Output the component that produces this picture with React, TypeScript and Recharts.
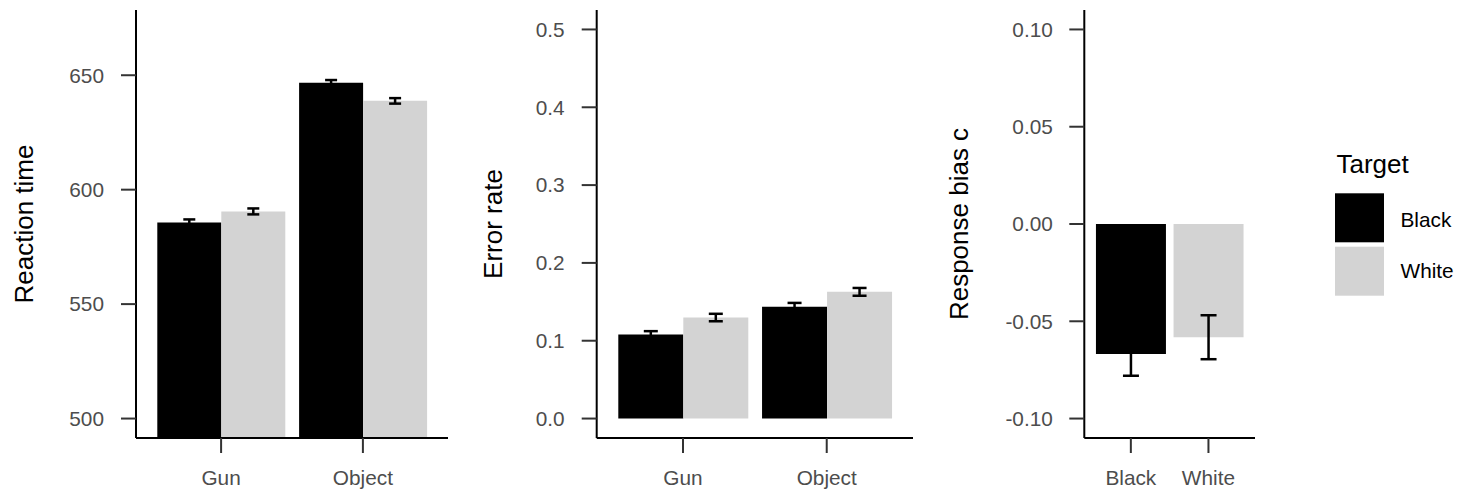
import React from 'react';
import { BarChart, Bar, XAxis, YAxis, ErrorBar, Cell } from 'recharts';

// ---------- data ----------
const conditions = ['Gun', 'Object'];
const targets = ['Black', 'White'];
const targetColors = ['#000000', '#d3d3d3'];

const rtBlack = [585.7, 646.7];
const rtWhite = [590.5, 638.8];
const rtBlackSe = [1.3, 1.2];
const rtWhiteSe = [1.3, 1.2];
const rtTicks = [500, 550, 600, 650];
const rtDomain = [491.5, 678.5];

const errBlack = [0.108, 0.1436];
const errWhite = [0.1298, 0.1628];
const errBlackSe = [0.0043, 0.005];
const errWhiteSe = [0.0048, 0.005];
const errTicks = [0, 0.1, 0.2, 0.3, 0.4, 0.5];
const errDomain = [-0.025, 0.525];

const biasValues = [-0.0668, -0.0582];
const biasSe = [0.0112, 0.0113];
const biasTicks = [-0.1, -0.05, 0, 0.05, 0.1];
const biasDomain = [-0.11, 0.11];

const rtData = conditions.map((c, i) => ({
  cond: c,
  black: rtBlack[i],
  white: rtWhite[i],
  blackSe: rtBlackSe[i],
  whiteSe: rtWhiteSe[i],
}));
const errData = conditions.map((c, i) => ({
  cond: c,
  black: errBlack[i],
  white: errWhite[i],
  blackSe: errBlackSe[i],
  whiteSe: errWhiteSe[i],
}));
const biasData = targets.map((t, i) => ({ target: t, bias: biasValues[i], se: biasSe[i] }));

// ---------- styles ----------
const FONT = '"Liberation Sans", Arial, Helvetica, sans-serif';
const TICK_FONT = 20.8;
const TITLE_FONT = 26;
const tickStyle = { fill: '#4d4d4d', fontSize: TICK_FONT, fontFamily: FONT };
const axisLine = { stroke: '#000', strokeWidth: 2 };
const tickLine = { stroke: '#333', strokeWidth: 2 };

function makeTitle(text: string, x: number) {
  return (props: any) => {
    const vb = props.viewBox || {};
    const cy = (vb.y ?? 0) + (vb.height ?? 0) / 2;
    return (
      <text
        x={x}
        y={cy}
        transform={`rotate(-90 ${x} ${cy})`}
        textAnchor="middle"
        fontSize={TITLE_FONT}
        fontFamily={FONT}
        fill="#000"
      >
        {text}
      </text>
    );
  };
}

const H = 492;

export default function App() {
  return (
    <div style={{ position: 'absolute', left: 0, top: 0, width: 1460, height: H, background: '#fff' }}>
      {/* Panel 1: Reaction time */}
      <div style={{ position: 'absolute', left: 0, top: 0 }}>
        <BarChart
          width={460}
          height={H}
          data={rtData}
          margin={{ top: 10, right: 12, left: 0, bottom: 0 }}
          barGap={0}
          barCategoryGap={7.1}
        >
          <XAxis
            dataKey="cond"
            height={54}
            padding={{ left: 14.2, right: 14.2 }}
            axisLine={axisLine}
            tickLine={tickLine}
            tickSize={15}
            tickMargin={17}
            tick={tickStyle}
            interval={0}
          />
          <YAxis
            type="number"
            width={136}
            domain={rtDomain}
            ticks={rtTicks}
            allowDataOverflow
            interval={0}
            axisLine={axisLine}
            tickLine={tickLine}
            tickSize={15}
            tickMargin={17}
            tick={tickStyle}
            label={{ content: makeTitle('Reaction time', 33) }}
          />
          <Bar dataKey="black" fill={targetColors[0]} isAnimationActive={false}>
            <ErrorBar dataKey="blackSe" width={6} stroke="#000" strokeWidth={2.5} />
          </Bar>
          <Bar dataKey="white" fill={targetColors[1]} isAnimationActive={false}>
            <ErrorBar dataKey="whiteSe" width={6} stroke="#000" strokeWidth={2.5} />
          </Bar>
        </BarChart>
      </div>

      {/* Panel 2: Error rate */}
      <div style={{ position: 'absolute', left: 470, top: 0 }}>
        <BarChart
          width={460}
          height={H}
          data={errData}
          margin={{ top: 10, right: 17, left: 0, bottom: 0 }}
          barGap={0}
          barCategoryGap={7.2}
        >
          <XAxis
            dataKey="cond"
            height={54}
            padding={{ left: 14.4, right: 14.4 }}
            axisLine={axisLine}
            tickLine={tickLine}
            tickSize={15}
            tickMargin={17}
            tick={tickStyle}
            interval={0}
          />
          <YAxis
            type="number"
            width={126.7}
            domain={errDomain}
            ticks={errTicks}
            allowDataOverflow
            interval={0}
            axisLine={axisLine}
            tickLine={tickLine}
            tickSize={15}
            tickMargin={17}
            tick={tickStyle}
            tickFormatter={(v: number) => v.toFixed(1)}
            label={{ content: makeTitle('Error rate', 31.7) }}
          />
          <Bar dataKey="black" fill={targetColors[0]} isAnimationActive={false}>
            <ErrorBar dataKey="blackSe" width={7} stroke="#000" strokeWidth={2.5} />
          </Bar>
          <Bar dataKey="white" fill={targetColors[1]} isAnimationActive={false}>
            <ErrorBar dataKey="whiteSe" width={7} stroke="#000" strokeWidth={2.5} />
          </Bar>
        </BarChart>
      </div>

      {/* Panel 3: Response bias */}
      <div style={{ position: 'absolute', left: 930, top: 0 }}>
        <BarChart
          width={340}
          height={H}
          data={biasData}
          margin={{ top: 10, right: 15, left: 0, bottom: 0 }}
          barGap={0}
          barCategoryGap={3.9}
        >
          <XAxis
            dataKey="target"
            height={54}
            padding={{ left: 7.75, right: 7.75 }}
            axisLine={axisLine}
            tickLine={tickLine}
            tickSize={15}
            tickMargin={17}
            tick={tickStyle}
            interval={0}
          />
          <YAxis
            type="number"
            width={154.3}
            domain={biasDomain}
            ticks={biasTicks}
            allowDataOverflow
            interval={0}
            axisLine={axisLine}
            tickLine={tickLine}
            tickSize={15}
            tickMargin={16.5}
            tick={tickStyle}
            tickFormatter={(v: number) => v.toFixed(2)}
            label={{ content: makeTitle('Response bias c', 38) }}
          />
          <Bar dataKey="bias" isAnimationActive={false}>
            {biasData.map((d, i) => (
              <Cell key={d.target} fill={targetColors[i]} />
            ))}
            <ErrorBar dataKey="se" width={8} stroke="#000" strokeWidth={2.5} />
          </Bar>
        </BarChart>
      </div>

      {/* Legend */}
      <svg
        style={{ position: 'absolute', left: 1320, top: 140 }}
        width={140}
        height={170}
      >
        <text x={16.5} y={33} fontSize={TITLE_FONT} fontFamily={FONT} fill="#000">
          Target
        </text>
        {targets.map((t, i) => (
          <g key={t}>
            <rect x={15} y={53.3 + i * 53.4} width={49} height={49} fill={targetColors[i]} />
            <text
              x={80.5}
              y={87.3 + i * 51}
              fontSize={TICK_FONT}
              fontFamily={FONT}
              fill="#000"
            >
              {t}
            </text>
          </g>
        ))}
      </svg>
    </div>
  );
}
